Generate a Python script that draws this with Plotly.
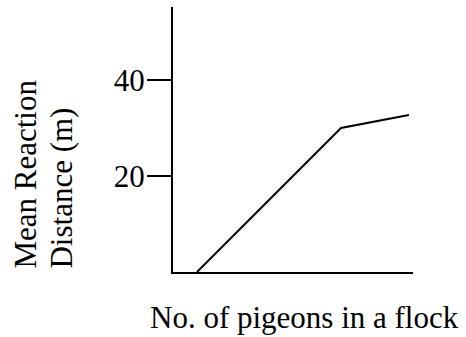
import plotly.graph_objects as go

# flock size (no scale shown on the axis) vs mean reaction distance
flock_size = [10, 70, 98.3]
reaction_dist = [0, 30, 32.7]
y_ticks = [20, 40]

serif = "Liberation Serif, Times New Roman, serif"

fig = go.Figure()
fig.add_trace(go.Scatter(x=flock_size, y=reaction_dist, mode='lines',
                         line=dict(color='black', width=2), cliponaxis=False))

fig.update_layout(
    width=466, height=337,
    margin=dict(l=173, r=53, t=7, b=65),
    plot_bgcolor='white', paper_bgcolor='white',
    showlegend=False,
    font=dict(family=serif, size=31, color='black'),
    xaxis=dict(range=[0, 100], showline=True, linecolor='black', linewidth=2,
               showgrid=False, zeroline=False, showticklabels=False, ticks=''),
    yaxis=dict(range=[0, 55.2], showline=True, linecolor='black', linewidth=2,
               showgrid=False, zeroline=False, tickvals=y_ticks,
               ticks='outside', ticklen=24, tickwidth=2, tickcolor='black',
               ticklabelstandoff=-4,
               tickfont=dict(family=serif, size=31, color='black')),
)

fig.add_annotation(text="No. of pigeons in a flock", xref='paper', yref='paper',
                   x=0.5466, y=0, yshift=-45, xanchor='center', yanchor='middle',
                   showarrow=False, font=dict(family=serif, size=31))
# two title lines, both ending level with the x axis
fig.add_annotation(text="Mean Reaction", xref='paper', yref='paper',
                   x=0, y=0.3675, xshift=-147, xanchor='center', yanchor='middle',
                   textangle=-90, showarrow=False, font=dict(family=serif, size=31))
fig.add_annotation(text="Distance (m)", xref='paper', yref='paper',
                   x=0, y=0.315, xshift=-111, xanchor='center', yanchor='middle',
                   textangle=-90, showarrow=False, font=dict(family=serif, size=31))

# drop the default page margin so the figure sits at the window corner
fig.write_html("out.html", config={'displayModeBar': False},
               post_script="document.body.style.margin='0';")
